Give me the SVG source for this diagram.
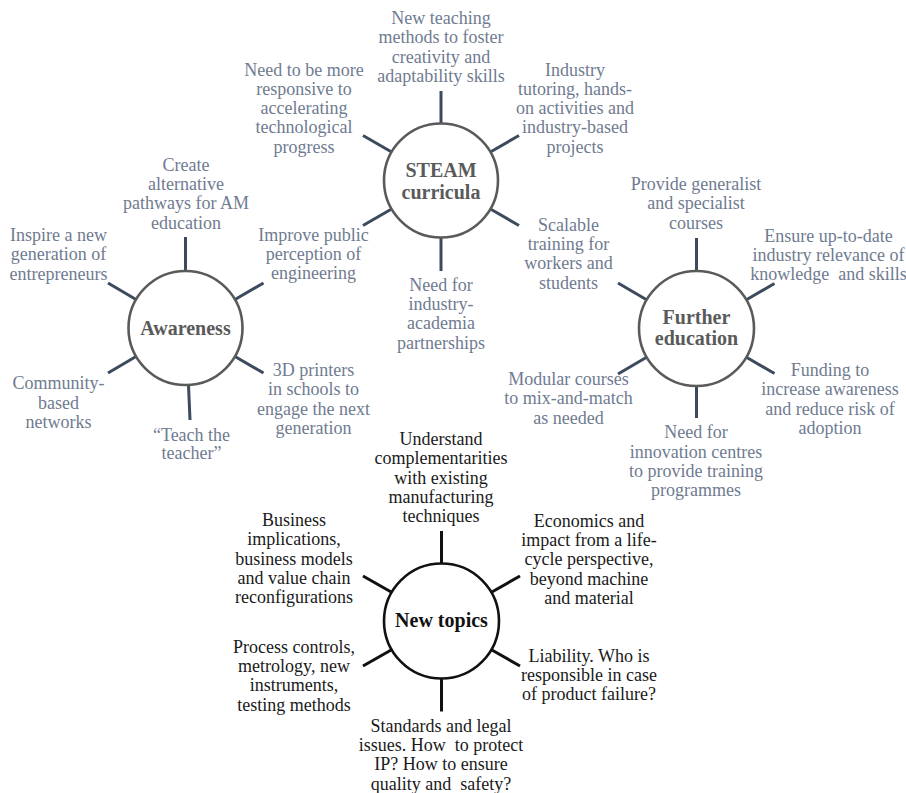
<svg xmlns="http://www.w3.org/2000/svg" width="906" height="793" viewBox="0 0 906 793">
<style>
.bg{fill:#ffffff}
.hub{fill:#ffffff;stroke:#5a5a5a;stroke-width:2.6}
.hubk{fill:#ffffff;stroke:#111111;stroke-width:2.6}
.hl{font-family:"Liberation Serif","Times New Roman",serif;font-size:20px;font-weight:bold;fill:#5a5a5a;text-anchor:middle}
.hlk{font-family:"Liberation Serif","Times New Roman",serif;font-size:20px;font-weight:bold;fill:#111111;text-anchor:middle}
.lb{font-family:"Liberation Serif","Times New Roman",serif;font-size:18px;fill:#6f7b90;text-anchor:middle}
.lbk{font-family:"Liberation Serif","Times New Roman",serif;font-size:18px;fill:#1a1a1a;text-anchor:middle}
.sp{stroke:#3b4a5c;stroke-width:3;fill:none}
.spk{stroke:#111111;stroke-width:3;fill:none}
</style>
<rect class="bg" x="0" y="0" width="906" height="793"/>
<g id="connectors">
  <!-- STEAM -->
  <line class="sp" x1="441" y1="123.5" x2="441" y2="91"/>
  <line class="sp" x1="441" y1="237.5" x2="441" y2="271"/>
  <line class="sp" x1="391.6" y1="152" x2="363" y2="135.5"/>
  <line class="sp" x1="490.4" y1="152" x2="519" y2="135.5"/>
  <line class="sp" x1="391.6" y1="209" x2="363" y2="225.5"/>
  <line class="sp" x1="490.4" y1="209" x2="519" y2="225.5"/>
  <!-- Awareness -->
  <line class="sp" x1="185.5" y1="271" x2="185.5" y2="237"/>
  <line class="sp" x1="188.5" y1="385" x2="190" y2="420"/>
  <line class="sp" x1="136" y1="299.5" x2="108" y2="283"/>
  <line class="sp" x1="235" y1="299.5" x2="263.5" y2="283"/>
  <line class="sp" x1="136" y1="356.5" x2="108" y2="373"/>
  <line class="sp" x1="235" y1="356.5" x2="263.5" y2="373"/>
  <!-- Further education -->
  <line class="sp" x1="696.5" y1="271.5" x2="696.5" y2="238"/>
  <line class="sp" x1="696.5" y1="385.5" x2="696.5" y2="418"/>
  <line class="sp" x1="647" y1="300" x2="618" y2="283"/>
  <line class="sp" x1="746" y1="300" x2="774.5" y2="283.5"/>
  <line class="sp" x1="647" y1="357" x2="618" y2="374"/>
  <line class="sp" x1="746" y1="357" x2="774.5" y2="373.5"/>
  <!-- New topics -->
  <line class="spk" x1="441.5" y1="564" x2="441.5" y2="531"/>
  <line class="spk" x1="441.5" y1="678" x2="441.5" y2="711.5"/>
  <line class="spk" x1="392" y1="592.5" x2="363" y2="576"/>
  <line class="spk" x1="491" y1="592.5" x2="520" y2="576"/>
  <line class="spk" x1="392" y1="649.5" x2="363" y2="666"/>
  <line class="spk" x1="491" y1="649.5" x2="520" y2="666"/>
</g>

<g id="hub-steam">
  <circle class="hub" cx="441" cy="180.5" r="57"/>
  <text class="hl"><tspan x="441" y="177">STEAM</tspan><tspan x="441" y="198.5">curricula</tspan></text>
</g>
<g id="hub-awareness">
  <circle class="hub" cx="185.5" cy="328" r="57"/>
  <text class="hl" x="185.5" y="335">Awareness</text>
</g>
<g id="hub-further">
  <circle class="hub" cx="696.5" cy="328.5" r="57.5"/>
  <text class="hl"><tspan x="696.5" y="323.5">Further</tspan><tspan x="696.5" y="345">education</tspan></text>
</g>
<g id="hub-newtopics">
  <circle class="hubk" cx="441.5" cy="621" r="57.5"/>
  <text class="hlk" x="441.5" y="627">New topics</text>
</g>

<!-- STEAM labels -->
<g id="l-new-teaching">
  <text class="lb"><tspan x="441" y="24">New teaching</tspan><tspan x="441" y="43.3">methods to foster</tspan><tspan x="441" y="62.6">creativity and</tspan><tspan x="441" y="81.9">adaptability skills</tspan></text>
</g>
<g id="l-responsive">
  <text class="lb"><tspan x="304" y="75.5">Need to be more</tspan><tspan x="304" y="94.8">responsive to</tspan><tspan x="304" y="114.1">accelerating</tspan><tspan x="304" y="133.4">technological</tspan><tspan x="304" y="152.7">progress</tspan></text>
</g>
<g id="l-industry-tutoring">
  <text class="lb"><tspan x="575" y="75.5">Industry</tspan><tspan x="575" y="94.8">tutoring, hands-</tspan><tspan x="575" y="114.1">on activities and</tspan><tspan x="575" y="133.4">industry-based</tspan><tspan x="575" y="152.7">projects</tspan></text>
</g>
<g id="l-improve">
  <text class="lb"><tspan x="313.5" y="240.7">Improve public</tspan><tspan x="313.5" y="260">perception of</tspan><tspan x="313.5" y="279.3">engineering</tspan></text>
</g>
<g id="l-partnerships">
  <text class="lb"><tspan x="441" y="290.7">Need for</tspan><tspan x="441" y="310">industry-</tspan><tspan x="441" y="329.3">academia</tspan><tspan x="441" y="348.6">partnerships</tspan></text>
</g>
<g id="l-scalable">
  <text class="lb"><tspan x="568.5" y="230.7">Scalable</tspan><tspan x="568.5" y="250">training for</tspan><tspan x="568.5" y="269.3">workers and</tspan><tspan x="568.5" y="288.6">students</tspan></text>
</g>

<!-- Awareness labels -->
<g id="l-create">
  <text class="lb"><tspan x="186" y="170.7">Create</tspan><tspan x="186" y="190">alternative</tspan><tspan x="186" y="209.3">pathways for AM</tspan><tspan x="186" y="228.6">education</tspan></text>
</g>
<g id="l-inspire">
  <text class="lb"><tspan x="58.5" y="241">Inspire a new</tspan><tspan x="58.5" y="260.3">generation of</tspan><tspan x="58.5" y="279.6">entrepreneurs</tspan></text>
</g>
<g id="l-community">
  <text class="lb"><tspan x="58.5" y="389.3">Community-</tspan><tspan x="58.5" y="408.6">based</tspan><tspan x="58.5" y="427.9">networks</tspan></text>
</g>
<g id="l-teach">
  <text class="lb"><tspan x="191.5" y="440.7">“Teach the</tspan><tspan x="191.5" y="459">teacher”</tspan></text>
</g>
<g id="l-3dprinters">
  <text class="lb"><tspan x="313.5" y="376">3D printers</tspan><tspan x="313.5" y="395.3">in schools to</tspan><tspan x="313.5" y="414.6">engage the next</tspan><tspan x="313.5" y="433.9">generation</tspan></text>
</g>

<!-- Further education labels -->
<g id="l-generalist">
  <text class="lb"><tspan x="696" y="190">Provide generalist</tspan><tspan x="696" y="209.3">and specialist</tspan><tspan x="696" y="228.6">courses</tspan></text>
</g>
<g id="l-uptodate">
  <text class="lb"><tspan x="828.5" y="241.7">Ensure up-to-date</tspan><tspan x="828.5" y="261">industry relevance of</tspan><tspan x="828.5" y="280.3" xml:space="preserve">knowledge  and skills</tspan></text>
</g>
<g id="l-funding">
  <text class="lb"><tspan x="830" y="376">Funding to</tspan><tspan x="830" y="395.3">increase awareness</tspan><tspan x="830" y="414.6">and reduce risk of</tspan><tspan x="830" y="433.9">adoption</tspan></text>
</g>
<g id="l-innovation">
  <text class="lb"><tspan x="696" y="438.3">Need for</tspan><tspan x="696" y="457.6">innovation centres</tspan><tspan x="696" y="476.9">to provide training</tspan><tspan x="696" y="496.2">programmes</tspan></text>
</g>
<g id="l-modular">
  <text class="lb"><tspan x="568.5" y="385">Modular courses</tspan><tspan x="568.5" y="404.3">to mix-and-match</tspan><tspan x="568.5" y="423.6">as needed</tspan></text>
</g>

<!-- New topics labels -->
<g id="l-understand">
  <text class="lbk"><tspan x="441" y="445">Understand</tspan><tspan x="441" y="464.3">complementarities</tspan><tspan x="441" y="483.6">with existing</tspan><tspan x="441" y="502.9">manufacturing</tspan><tspan x="441" y="522.2">techniques</tspan></text>
</g>
<g id="l-business">
  <text class="lbk"><tspan x="294" y="526">Business</tspan><tspan x="294" y="545.3">implications,</tspan><tspan x="294" y="564.6">business models</tspan><tspan x="294" y="583.9">and value chain</tspan><tspan x="294" y="603.2">reconfigurations</tspan></text>
</g>
<g id="l-economics">
  <text class="lbk"><tspan x="589" y="526.7">Economics and</tspan><tspan x="589" y="546">impact from a life-</tspan><tspan x="589" y="565.3">cycle perspective,</tspan><tspan x="589" y="584.6">beyond machine</tspan><tspan x="589" y="603.9">and material</tspan></text>
</g>
<g id="l-process">
  <text class="lbk"><tspan x="294" y="652.7">Process controls,</tspan><tspan x="294" y="672">metrology, new</tspan><tspan x="294" y="691.3">instruments,</tspan><tspan x="294" y="710.6">testing methods</tspan></text>
</g>
<g id="l-liability">
  <text class="lbk"><tspan x="589" y="661.5">Liability. Who is</tspan><tspan x="589" y="680.8">responsible in case</tspan><tspan x="589" y="700.1">of product failure?</tspan></text>
</g>
<g id="l-standards">
  <text class="lbk" xml:space="preserve"><tspan x="441" y="731.7">Standards and legal</tspan><tspan x="441" y="751">issues. How  to protect</tspan><tspan x="441" y="770.3">IP? How to ensure</tspan><tspan x="441" y="789.6">quality and  safety?</tspan></text>
</g>
</svg>
